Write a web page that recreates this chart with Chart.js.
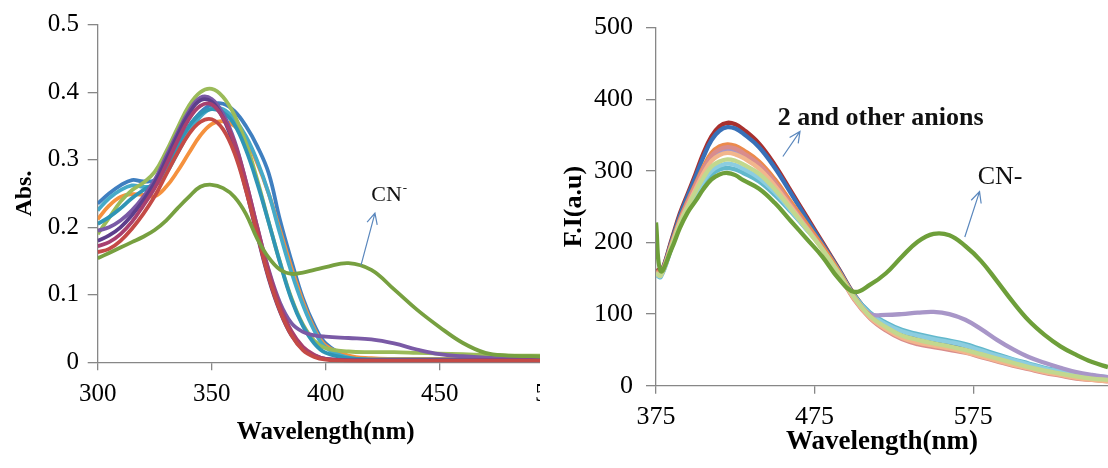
<!DOCTYPE html>
<html>
<head>
<meta charset="utf-8">
<script src="https://cdn.jsdelivr.net/npm/chart.js@4.4.1/dist/chart.umd.min.js"></script>
<style>
  html, body { margin: 0; padding: 0; background: #fff; width: 1108px; height: 468px; overflow: hidden; }
  #absWrap { position: absolute; left: 0; top: 0; width: 540px; height: 468px; overflow: hidden; }
  #flWrap { position: absolute; left: 540px; top: 0; width: 568px; height: 468px; overflow: hidden; }
  canvas { display: block; }
</style>
</head>
<body>
<div id="absWrap"><canvas id="abs-chart" width="560" height="468"></canvas></div>
<div id="flWrap"><canvas id="fl-chart" width="568" height="468"></canvas></div>
<script>
const SERIF = '"Liberation Serif", "Times New Roman", serif';
const AXIS = '#878787';
const ARROW = '#5a87bd';

// ─── Absorbance (left) ───
const absWavelength = [300, 305, 310, 315, 320, 325, 330, 335, 340, 345, 350, 355, 360, 365, 370, 375, 380, 385, 390, 395, 400,
  410, 420, 430, 440, 450, 460, 470, 480, 490, 500];
const absXTicks = [300, 350, 400, 450, 500];
const absYTicks = [0, 0.1, 0.2, 0.3, 0.4, 0.5];

const absRed = [.163, .168, .18, .198, .22, .246, .278, .31, .338, .356, .36, .345, .31, .255, .19, .126, .076, .04, .018, .008, .004,
  .002, .002, .002, .002, .002, .002, .002, .002, .002, .002];
const absMagenta = [.172, .178, .19, .208, .232, .258, .292, .328, .36, .38, .382, .362, .325, .268, .2, .135, .083, .046, .023, .011, .005,
  .003, .003, .003, .003, .003, .003, .003, .003, .003, .003];
const absDarkPurple = [.18, .188, .2, .218, .24, .266, .3, .336, .368, .388, .386, .362, .318, .256, .188, .124, .075, .04, .02, .01, .005,
  .003, .003, .003, .003, .003, .003, .003, .003, .003, .003];
const absPurple = [.195, .2, .21, .225, .245, .27, .305, .34, .372, .392, .39, .368, .328, .268, .2, .137, .088, .058, .045, .04, .038,
  .036, .034, .028, .019, .012, .009, .007, .006, .006, .006];
const absTeal = [.205, .215, .228, .243, .255, .266, .29, .322, .35, .368, .375, .37, .352, .315, .265, .207, .147, .093, .054, .028, .014,
  .006, .004, .004, .004, .004, .004, .004, .004, .004, .004];
const absLightGreen = [.19, .214, .238, .255, .266, .282, .312, .347, .38, .4, .405, .393, .366, .325, .27, .208, .148, .095, .056, .032, .021,
  .016, .015, .015, .014, .013, .012, .011, .01, .01, .01];
const absAqua = [.225, .243, .255, .262, .26, .262, .28, .31, .34, .364, .376, .375, .36, .335, .298, .25, .19, .133, .085, .047, .022,
  .007, .004, .004, .004, .004, .004, .004, .004, .004, .004];
const absOrange = [.212, .232, .245, .249, .248, .246, .26, .283, .31, .336, .353, .357, .35, .33, .295, .25, .195, .14, .09, .05, .025,
  .01, .006, .005, .005, .005, .005, .005, .005, .005, .005];
const absBlue = [.235, .25, .262, .27, .268, .27, .288, .318, .348, .37, .382, .383, .372, .35, .32, .28, .21, .15, .095, .055, .028,
  .008, .005, .004, .004, .004, .004, .004, .004, .004, .004];
const absCN = [.154, .162, .17, .178, .186, .196, .21, .228, .245, .26, .263, .258, .245, .22, .183, .155, .137, .131, .133, .137, .141,
  .147, .137, .108, .078, .052, .029, .014, .01, .009, .008];

const absSeries = [
  { values: absCN, color: '#77a040' },
  { values: absRed, color: '#c44a46' },
  { values: absMagenta, color: '#a8406f' },
  { values: absDarkPurple, color: '#5d3f8c' },
  { values: absPurple, color: '#7a5aa6' },
  { values: absTeal, color: '#2f95b5' },
  { values: absLightGreen, color: '#9bbb59' },
  { values: absAqua, color: '#46aac8' },
  { values: absOrange, color: '#f5913e' },
  { values: absBlue, color: '#3f7fc0' }
];

// ─── Fluorescence (right) ───
const flWavelength = [375, 378, 385, 390, 395, 400, 405, 410, 415, 420, 425, 430, 440, 450, 460, 470, 480, 490, 500,
  510, 520, 530, 540, 550, 560, 570, 580, 590, 600, 610, 620, 630, 640, 650, 660];
const flXTicks = [375, 475, 575];
const flYTicks = [0, 100, 200, 300, 400, 500];

const flRed = [162, 158, 205, 240, 268, 296, 325, 348, 362, 367, 365, 358, 338, 308, 272, 236, 200, 164, 127,
  100, 83, 71, 64, 59, 55, 50, 44, 38, 32, 26, 21, 17, 13, 10, 8];
const flBlue = [160, 157, 203, 237, 265, 292, 320, 343, 356, 361, 359, 352, 333, 304, 269, 233, 198, 163, 126,
  100, 84, 72, 66, 61, 57, 52, 46, 40, 34, 28, 23, 18, 14, 11, 9];
const flOrange = [160, 156, 200, 232, 258, 282, 306, 325, 334, 337, 335, 329, 313, 288, 257, 226, 195, 161, 124,
  97, 80, 68, 61, 57, 53, 49, 43, 37, 31, 25, 20, 16, 12, 9, 7];
const flPink = [158, 155, 198, 230, 256, 280, 303, 321, 330, 333, 331, 325, 309, 284, 253, 222, 191, 157, 120,
  94, 77, 65, 58, 54, 50, 46, 40, 34, 28, 23, 18, 14, 10, 8, 6];
const flLavender = [158, 155, 198, 229, 254, 277, 299, 317, 326, 329, 327, 321, 306, 282, 252, 222, 191, 158, 122,
  100, 99, 100, 102, 103, 100, 92, 79, 64, 51, 40, 32, 25, 19, 15, 12];
const flTan = [157, 154, 197, 228, 252, 275, 297, 314, 322, 325, 323, 318, 303, 279, 250, 220, 190, 157, 121,
  95, 79, 67, 60, 56, 52, 47, 41, 35, 29, 24, 19, 15, 11, 8, 6];
const flYellowGreen = [157, 154, 196, 226, 250, 271, 291, 306, 313, 316, 314, 309, 296, 274, 247, 219, 190, 158, 123,
  97, 82, 70, 64, 59, 55, 50, 44, 38, 32, 26, 21, 17, 13, 10, 8];
const flLightBlue = [156, 153, 195, 225, 248, 267, 286, 300, 307, 310, 308, 303, 290, 270, 245, 218, 192, 160, 125,
  100, 86, 76, 70, 65, 61, 56, 49, 42, 36, 30, 24, 20, 16, 13, 11];
const flAqua = [155, 152, 194, 224, 247, 265, 282, 295, 302, 304, 302, 297, 285, 266, 243, 218, 193, 161, 126,
  102, 88, 78, 72, 67, 63, 58, 51, 44, 37, 31, 25, 21, 17, 14, 12];
const flCN = [228, 160, 192, 220, 242, 258, 275, 288, 295, 297, 294, 287, 275, 255, 230, 205, 180, 150, 131,
  141, 157, 180, 201, 212, 210, 195, 174, 146, 117, 91, 71, 55, 43, 33, 26];

const flSeries = [
  { values: flCN, color: '#6e9f3a' },
  { values: flYellowGreen, color: '#c2d88e' },
  { values: flTan, color: '#f2b68c' },
  { values: flPink, color: '#d98c8c' },
  { values: flOrange, color: '#ec8a4c' },
  { values: flLavender, color: '#a896c8' },
  { values: flLightBlue, color: '#8ccde0' },
  { values: flAqua, color: '#62b8cc' },
  { values: flBlue, color: '#3870b8' },
  { values: flRed, color: '#a8302e' }
];

// annotation texts and arrows, in data units
const absNotes = [{ text: 'CN', sup: '-', x: 420, y: 0.248, size: 22, weight: 'normal' }];
const absArrows = [{ from: [415.5, 0.144], to: [421.6, 0.221] }];
const flNotes = [
  { text: '2 and other anions', x: 451.7, y: 374, size: 26, weight: 'bold' },
  { text: 'CN-', x: 577.8, y: 291.5, size: 26, weight: 'normal' }
];
const flArrows = [
  { from: [455, 320], to: [465.8, 355] },
  { from: [569.7, 207.7], to: [579, 271] }
];

function notesPlugin(notes, arrows) {
  return {
    id: 'notes',
    afterDatasetsDraw(chart) {
      const { ctx, scales: { x, y } } = chart;
      ctx.save();
      ctx.strokeStyle = ARROW;
      ctx.lineWidth = 1.2;
      for (const a of arrows) {
        const x0 = x.getPixelForValue(a.from[0]), y0 = y.getPixelForValue(a.from[1]);
        const x1 = x.getPixelForValue(a.to[0]), y1 = y.getPixelForValue(a.to[1]);
        const ang = Math.atan2(y1 - y0, x1 - x0);
        const head = 12, spread = 0.45;
        ctx.beginPath();
        ctx.moveTo(x0, y0);
        ctx.lineTo(x1, y1);
        ctx.moveTo(x1 - head * Math.cos(ang - spread), y1 - head * Math.sin(ang - spread));
        ctx.lineTo(x1, y1);
        ctx.lineTo(x1 - head * Math.cos(ang + spread), y1 - head * Math.sin(ang + spread));
        ctx.stroke();
      }
      ctx.fillStyle = '#111';
      ctx.textBaseline = 'middle';
      ctx.textAlign = 'left';
      for (const n of notes) {
        const px = x.getPixelForValue(n.x), py = y.getPixelForValue(n.y);
        ctx.font = `${n.weight} ${n.size}px ${SERIF}`;
        ctx.fillText(n.text, px, py);
        if (n.sup) {
          const w = ctx.measureText(n.text).width;
          ctx.font = `${n.weight} ${Math.round(n.size * 0.6)}px ${SERIF}`;
          ctx.fillText(n.sup, px + w + 1, py - n.size * 0.3);
        }
      }
      ctx.restore();
    }
  };
}

function makeDatasets(series, wavelengths, width) {
  return series.map(s => ({
    data: wavelengths.map((w, i) => ({ x: w, y: s.values[i] })),
    borderColor: s.color,
    backgroundColor: s.color,
    borderWidth: width,
    pointRadius: 0,
    tension: 0.4,
    fill: false
  }));
}

function axisGrid(tickLength) {
  return { display: true, drawOnChartArea: false, drawTicks: true, tickLength, color: AXIS, lineWidth: 1.3 };
}

// ─── Left chart ───
new Chart(document.getElementById('abs-chart'), {
  type: 'line',
  data: { datasets: makeDatasets(absSeries, absWavelength, 3.8) },
  plugins: [notesPlugin(absNotes, absArrows)],
  options: {
    responsive: false,
    animation: false,
    layout: { padding: { top: 24.8, left: 0, right: 6.3, bottom: 0 } },
    scales: {
      x: {
        type: 'linear', min: 300, max: 500,
        afterBuildTicks: s => { s.ticks = absXTicks.map(v => ({ value: v })); },
        afterFit: s => { s.height = 105.7; s.paddingLeft = 0; s.paddingRight = 0; },
        grid: axisGrid(8),
        border: { display: true, color: AXIS, width: 1.3 },
        ticks: { color: '#000', font: { family: SERIF, size: 25 }, padding: 9, maxRotation: 0, autoSkip: false },
        title: { display: true, text: 'Wavelength(nm)', color: '#000',
          font: { family: SERIF, size: 25, weight: 'bold' }, padding: { top: 0, bottom: 20 } }
      },
      y: {
        min: 0, max: 0.5,
        afterBuildTicks: s => { s.ticks = absYTicks.map(v => ({ value: v })); },
        afterFit: s => { s.width = 97.7; s.paddingTop = 0; s.paddingBottom = 0; },
        grid: axisGrid(10),
        border: { display: true, color: AXIS, width: 1.3 },
        ticks: { color: '#000', font: { family: SERIF, size: 25 }, padding: 8.7,
          callback: v => String(+v.toFixed(1)) },
        title: { display: true, text: 'Abs.', color: '#000',
          font: { family: SERIF, size: 24, weight: 'bold' }, padding: { top: 10.6, bottom: 0 } }
      }
    },
    plugins: { legend: { display: false }, tooltip: { enabled: false } }
  }
});

// ─── Right chart ───
new Chart(document.getElementById('fl-chart'), {
  type: 'line',
  data: { datasets: makeDatasets(flSeries, flWavelength, 4.3) },
  plugins: [notesPlugin(flNotes, flArrows)],
  options: {
    responsive: false,
    animation: false,
    layout: { padding: { top: 27.6, left: 0, right: 0, bottom: 0 } },
    scales: {
      x: {
        type: 'linear', min: 375, max: 660,
        afterBuildTicks: s => { s.ticks = flXTicks.map(v => ({ value: v })); },
        afterFit: s => { s.height = 82.3; s.paddingLeft = 0; s.paddingRight = 0; },
        grid: axisGrid(8),
        border: { display: true, color: AXIS, width: 1.3 },
        ticks: { color: '#000', font: { family: SERIF, size: 26 }, padding: 8, maxRotation: 0, autoSkip: false },
        title: { display: true, text: 'Wavelength(nm)', color: '#000',
          font: { family: SERIF, size: 27, weight: 'bold' }, padding: { top: 0, bottom: 10 } }
      },
      y: {
        min: 0, max: 500,
        afterBuildTicks: s => { s.ticks = flYTicks.map(v => ({ value: v })); },
        afterFit: s => { s.width = 116; s.paddingTop = 0; s.paddingBottom = 0; },
        grid: axisGrid(10),
        border: { display: true, color: AXIS, width: 1.3 },
        ticks: { color: '#000', font: { family: SERIF, size: 26 }, padding: 13 },
        title: { display: true, text: 'F.I(a.u)', color: '#000',
          font: { family: SERIF, size: 26, weight: 'bold' }, padding: { top: 19, bottom: 0 } }
      }
    },
    plugins: { legend: { display: false }, tooltip: { enabled: false } }
  }
});
</script>
</body>
</html>
